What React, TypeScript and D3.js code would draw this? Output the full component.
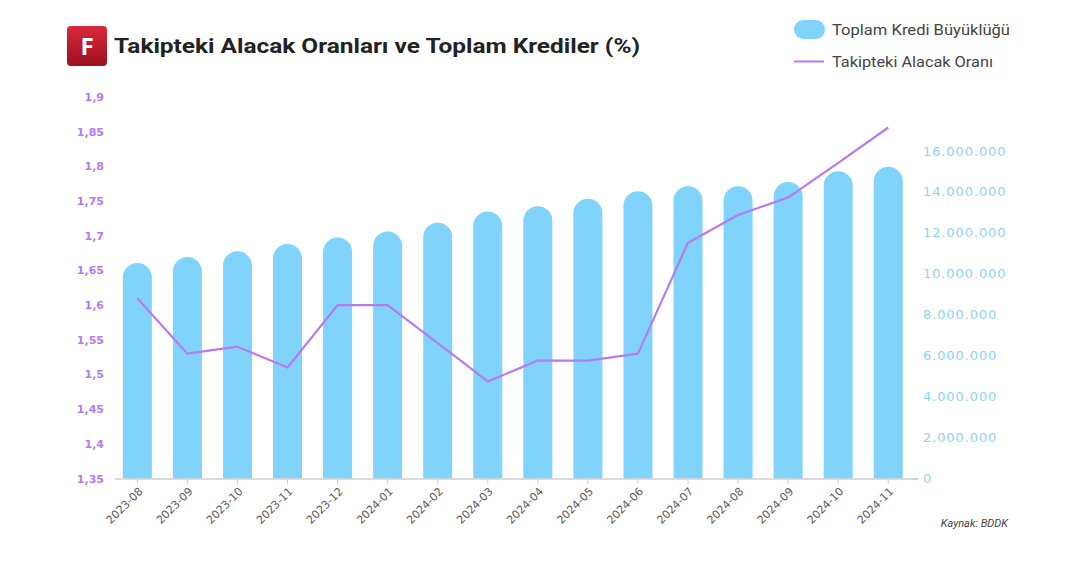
import React from "react";
import * as d3 from "d3";

const categories = ["2023-08","2023-09","2023-10","2023-11","2023-12","2024-01","2024-02","2024-03","2024-04","2024-05","2024-06","2024-07","2024-08","2024-09","2024-10","2024-11"];
const totalCredit = [10530000,10820000,11100000,11460000,11780000,12070000,12490000,13050000,13300000,13670000,14030000,14280000,14280000,14490000,15010000,15230000];
const nplRatio = [1.61,1.53,1.54,1.51,1.60,1.60,1.545,1.49,1.52,1.52,1.53,1.69,1.73,1.755,1.805,1.856];
const leftTicks = [1.35,1.4,1.45,1.5,1.55,1.6,1.65,1.7,1.75,1.8,1.85,1.9];
const rightTicks = [0,2000000,4000000,6000000,8000000,10000000,12000000,14000000,16000000];

const W = 1080, H = 566;
const BLUE = "#80d3fb";
const PURPLE = "#b77af2";
const FONT = "Roboto, 'Open Sans', sans-serif";
const WIDE = "'DejaVu Sans', sans-serif";

export default function App() {
  const x = d3.scaleBand<string>().domain(categories).range([112.3, 913.3]).paddingInner(0.42).paddingOuter(0.21);
  const yL = d3.scaleLinear().domain([1.35, 1.9]).range([478.5, 97]);
  const yR = d3.scaleLinear().domain([0, 18640000]).range([478.5, 97]);
  const bw = 29;
  const r = bw / 2;
  const cx = (c: string) => (x(c) as number) + x.bandwidth() / 2;

  const barPath = (c: string, v: number) => {
    const x0 = cx(c) - bw / 2, x1 = cx(c) + bw / 2;
    const top = yR(v), base = yR(0);
    return `M${x0},${base}L${x0},${top + r}A${r},${r} 0 0 1 ${x1},${top + r}L${x1},${base}Z`;
  };

  const line = d3.line<number>().x((_, i) => cx(categories[i])).y((d) => yL(d));
  const fmtL = (v: number) => String(+v.toFixed(2)).replace(".", ",");
  const fmtR = (v: number) => d3.format(",")(v).replace(/,/g, ".");

  return (
    <svg width={W} height={H} style={{ position: "absolute", left: 0, top: 0, background: "#fff" }} fontFamily={FONT}>
      <defs>
        <linearGradient id="logo" x1="0" y1="0" x2="0" y2="1">
          <stop offset="0" stopColor="#d8283a" />
          <stop offset="1" stopColor="#9c1020" />
        </linearGradient>
      </defs>
      <rect x={0} y={0} width={W} height={H} fill="#fff" />
      {/* logo + title */}
      <rect x={67} y={26} width={40} height={40} rx={4} fill="url(#logo)" />
      <text x={87} y={55} textAnchor="middle" fill="#fff" fontSize={24} fontWeight={700} fontFamily="'Open Sans', sans-serif">F</text>
      <text x={114} y={53} fill="#222" fontSize={21} fontWeight={700} textLength={526} lengthAdjust="spacingAndGlyphs">Takipteki Alacak Oranları ve Toplam Krediler (%)</text>

      {/* legend */}
      <rect x={794} y={20} width={31} height={19} rx={9.5} fill={BLUE} />
      <text x={832} y={35} fill="#444" fontSize={14} textLength={178} lengthAdjust="spacingAndGlyphs">Toplam Kredi Büyüklüğü</text>
      <line x1={794} x2={824} y1={61.5} y2={61.5} stroke={PURPLE} strokeWidth={2} />
      <text x={832} y={67} fill="#444" fontSize={14} textLength={161} lengthAdjust="spacingAndGlyphs">Takipteki Alacak Oranı</text>

      {/* bars */}
      {categories.map((c, i) => (
        <path key={c} d={barPath(c, totalCredit[i])} fill={BLUE} />
      ))}

      {/* axis */}
      <line x1={115} x2={918} y1={479} y2={479} stroke="#cfcfcf" strokeWidth={1.5} />
      {categories.map((c) => (
        <line key={"t" + c} x1={cx(c)} x2={cx(c)} y1={479} y2={484} stroke="#cfcfcf" strokeWidth={1} />
      ))}
      {categories.map((c) => (
        <text key={"l" + c} transform={`translate(${cx(c) + 6},${492}) rotate(-45)`} textAnchor="end" fontSize={11} fill="#5a5a5a" fontFamily={WIDE}>{c}</text>
      ))}

      {/* line */}
      <path d={line(nplRatio) || ""} fill="none" stroke={PURPLE} strokeWidth={2.2} strokeLinejoin="round" />

      {/* left axis */}
      {leftTicks.map((t) => (
        <text key={"yl" + t} x={104} y={yL(t) + 4} textAnchor="end" fontSize={11} fill={PURPLE} fontWeight={700} fontFamily={WIDE}>{fmtL(t)}</text>
      ))}
      {/* right axis */}
      {rightTicks.map((t) => (
        <text key={"yr" + t} x={923} y={yR(t) + 4.5} fontSize={13} fill="#8fd2f5" fontFamily={WIDE} letterSpacing={0.9}>{fmtR(t)}</text>
      ))}
      <line x1={913} x2={918} y1={479} y2={479} stroke="#cfcfcf" strokeWidth={1.5} />

      <text x={1008} y={527} textAnchor="end" fontSize={11} fontStyle="italic" fill="#444">Kaynak: BDDK</text>
    </svg>
  );
}
